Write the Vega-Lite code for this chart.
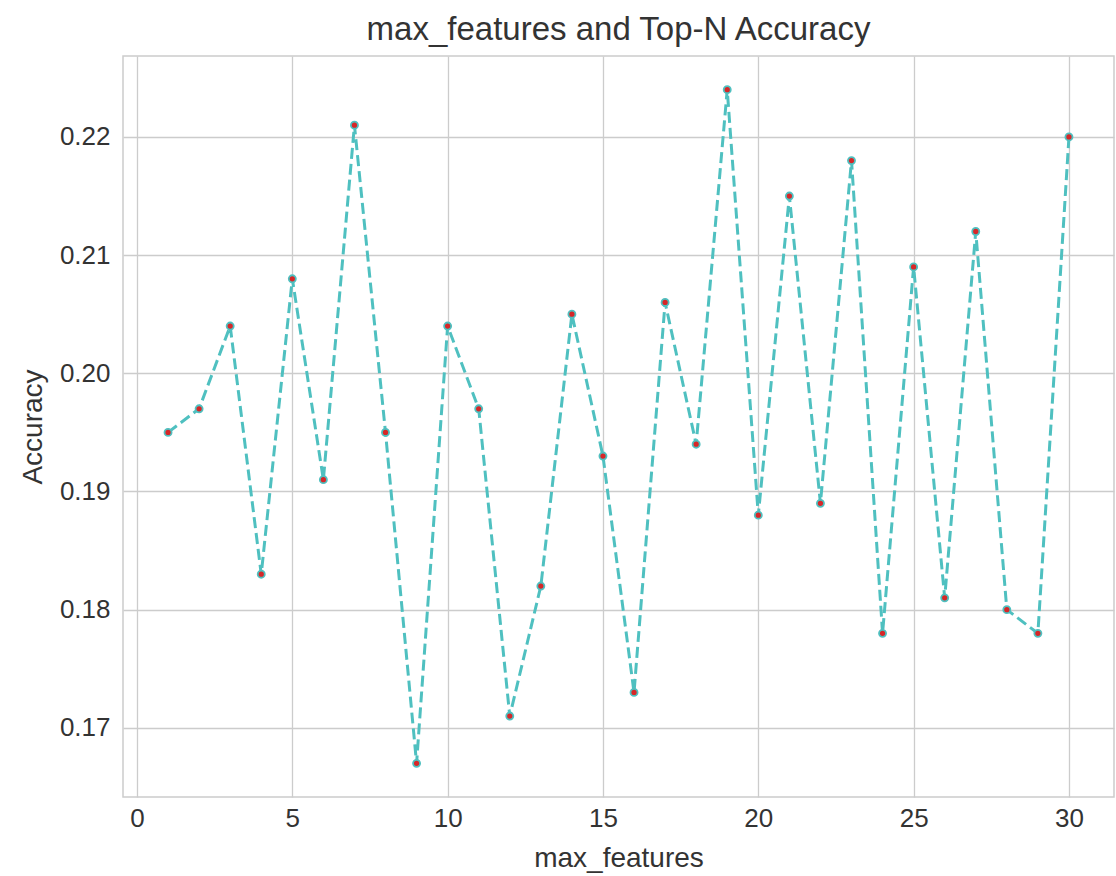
{
  "$schema": "https://vega.github.io/schema/vega-lite/v6.json",
  "autosize": "none",
  "width": 991,
  "height": 741,
  "padding": {"left": 123, "top": 56, "right": 2, "bottom": 79},
  "background": "white",
  "config": {
    "font": "Liberation Sans",
    "view": {"stroke": "#cccccc", "strokeWidth": 1.5},
    "axis": {
      "domain": false,
      "ticks": false,
      "grid": true,
      "gridColor": "#cccccc",
      "gridWidth": 1.3,
      "labelFont": "Liberation Sans",
      "labelFontSize": 26,
      "labelColor": "#333333",
      "titleFont": "Liberation Sans",
      "titleFontSize": 28,
      "titleFontWeight": "normal",
      "titleColor": "#333333"
    }
  },
  "title": {
    "text": "max_features and Top-N Accuracy",
    "font": "Liberation Sans",
    "fontSize": 33,
    "fontWeight": "normal",
    "color": "#333333",
    "offset": 9
  },
  "data": {
    "values": [
      {"max_features": 1, "Accuracy": 0.195},
      {"max_features": 2, "Accuracy": 0.197},
      {"max_features": 3, "Accuracy": 0.204},
      {"max_features": 4, "Accuracy": 0.183},
      {"max_features": 5, "Accuracy": 0.208},
      {"max_features": 6, "Accuracy": 0.191},
      {"max_features": 7, "Accuracy": 0.221},
      {"max_features": 8, "Accuracy": 0.195},
      {"max_features": 9, "Accuracy": 0.167},
      {"max_features": 10, "Accuracy": 0.204},
      {"max_features": 11, "Accuracy": 0.197},
      {"max_features": 12, "Accuracy": 0.171},
      {"max_features": 13, "Accuracy": 0.182},
      {"max_features": 14, "Accuracy": 0.205},
      {"max_features": 15, "Accuracy": 0.193},
      {"max_features": 16, "Accuracy": 0.173},
      {"max_features": 17, "Accuracy": 0.206},
      {"max_features": 18, "Accuracy": 0.194},
      {"max_features": 19, "Accuracy": 0.224},
      {"max_features": 20, "Accuracy": 0.188},
      {"max_features": 21, "Accuracy": 0.215},
      {"max_features": 22, "Accuracy": 0.189},
      {"max_features": 23, "Accuracy": 0.218},
      {"max_features": 24, "Accuracy": 0.178},
      {"max_features": 25, "Accuracy": 0.209},
      {"max_features": 26, "Accuracy": 0.181},
      {"max_features": 27, "Accuracy": 0.212},
      {"max_features": 28, "Accuracy": 0.180},
      {"max_features": 29, "Accuracy": 0.178},
      {"max_features": 30, "Accuracy": 0.220}
    ]
  },
  "encoding": {
    "x": {
      "field": "max_features",
      "type": "quantitative",
      "scale": {"domain": [-0.45, 31.45], "nice": false, "zero": false},
      "axis": {"values": [0, 5, 10, 15, 20, 25, 30], "labelPadding": 8, "titlePadding": 13, "labelFlush": false}
    },
    "y": {
      "field": "Accuracy",
      "type": "quantitative",
      "scale": {"domain": [0.16415, 0.22685], "nice": false, "zero": false},
      "axis": {"values": [0.17, 0.18, 0.19, 0.20, 0.21, 0.22], "format": ".2f", "labelPadding": 13, "titlePadding": 12, "labelFlush": false}
    }
  },
  "layer": [
    {
      "mark": {"type": "line", "color": "#4fc0c0", "strokeWidth": 3, "strokeDash": [11, 5], "opacity": 1}
    },
    {
      "mark": {"type": "point", "shape": "circle", "filled": true, "fill": "#d62728", "stroke": "#4fc0c0", "strokeWidth": 1.8, "size": 50, "opacity": 1}
    }
  ]
}
